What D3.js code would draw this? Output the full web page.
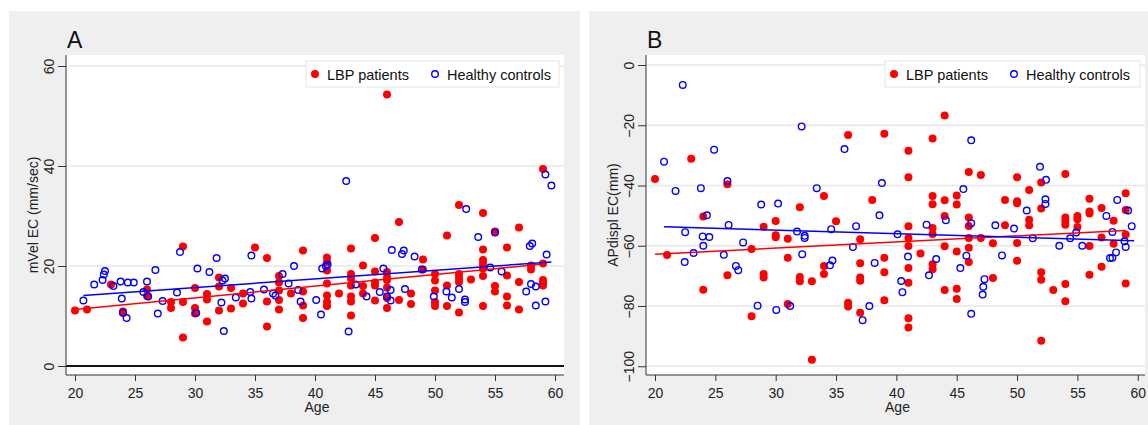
<!DOCTYPE html>
<html>
<head>
<meta charset="utf-8">
<script src="https://cdn.jsdelivr.net/npm/d3@7"></script>
<style>
  body { margin: 0; background: #fff; }
  svg { display: block; font-family: "Liberation Sans", Arial, sans-serif; }
</style>
</head>
<body>
<div id="chart"></div>
<script>
"use strict";

// Panel A: mVel EC (mm/sec) by age
const lbpA = [
  [20,11.1],[21,11.3],[23,16.3],[24,10.9],[24,10.6],[26,15.3],[26,14.0],[28,12.8],[28,11.6],[29,23.9],
  [29,12.8],[29,5.7],[30,15.6],[30,11.6],[30,10.5],[31,14.4],[31,13.3],[31,8.9],[32,17.7],[32,15.9],
  [32,11.1],[33,15.6],[33,11.5],[34,14.5],[34,12.5],[35,23.7],[36,21.6],[36,12.9],[36,7.9],[37,18.0],
  [37,16.7],[37,15.1],[37,13.2],[37,11.3],[38,14.5],[39,23.1],[39,14.9],[39,12.1],[39,9.6],[41,21.7],
  [41,20.8],[41,19.1],[41,16.5],[41,14.1],[41,12.8],[41,12.0],[42,14.5],[43,23.5],[43,18.4],[43,17.5],
  [43,16.1],[43,13.9],[43,12.9],[43,10.1],[44,20.1],[44,16.0],[44,14.5],[45,25.6],[45,18.9],[45,16.7],
  [45,16.1],[45,13.1],[46,54.3],[46,18.8],[46,17.7],[46,17.2],[46,15.7],[46,13.6],[46,11.6],[47,28.8],
  [47,13.2],[48,14.5],[48,12.4],[49,21.3],[49,19.3],[50,18.4],[50,17.1],[50,15.1],[50,12.8],[50,12.0],
  [51,26.1],[51,16.1],[51,12.0],[52,32.2],[52,18.4],[52,17.6],[52,16.8],[52,10.7],[53,17.3],[54,30.6],
  [54,23.3],[54,21.2],[54,20.4],[54,19.5],[54,18.0],[54,12.0],[55,26.9],[55,16.0],[55,14.9],[56,23.7],
  [56,18.1],[56,13.9],[56,12.1],[57,27.7],[57,16.8],[57,11.3],[58,20.1],[58,19.3],[59,39.4],[59,20.5],
  [59,17.2],[59,16.7],[59,16.1]
];
const hcA = [
  [20.7,13.1],[21.6,16.3],[22.3,17.2],[22.4,18.3],[22.5,19.0],[23.2,16.0],[23.8,16.9],[23.9,13.5],[24.0,10.7],[24.3,9.6],
  [24.4,16.7],[24.9,16.7],[25.7,14.8],[26.0,16.9],[26.1,13.9],[26.7,19.2],[26.9,10.5],[27.3,13.0],[28.5,14.7],[28.75,22.8],
  [30.1,10.6],[30.2,19.5],[31.2,18.8],[31.8,21.6],[32.2,12.7],[32.3,17.1],[32.5,17.5],[32.4,7.0],[33.4,13.7],[34.6,14.8],
  [34.7,13.5],[34.7,22.1],[35.75,15.3],[36.5,14.5],[36.7,14.1],[37.3,18.4],[37.8,16.5],[38.25,20.0],[38.6,15.2],[38.8,12.9],
  [40.1,13.2],[40.5,10.3],[40.6,19.5],[40.9,20.0],[41.05,20.3],[42.6,37.0],[42.8,6.9],[43.4,16.3],[44.3,13.9],[45.4,14.8],
  [45.7,19.5],[46.0,13.9],[46.3,15.2],[46.3,13.1],[46.4,23.2],[47.25,22.4],[47.4,23.1],[47.5,15.4],[48.3,21.9],[48.9,19.3],
  [49.9,13.9],[50.95,14.9],[51.4,13.7],[52.0,15.4],[52.5,13.3],[52.5,12.8],[52.6,31.4],[53.6,25.8],[54.6,19.7],[55.0,26.7],
  [55.55,18.9],[57.6,14.9],[57.9,24.0],[58.1,24.5],[58.0,16.4],[58.4,15.9],[58.4,12.1],[59.2,38.3],[59.2,12.9],[59.3,22.3],
  [59.7,36.1]
];
const fitLbpA = [[20,11.3],[59,20.4]];
const fitHcA = [[20.7,14.1],[59.7,20.8]];

// Panel B: APdispl EC (mm) by age
const lbpB = [
  [20,-37.8],[23,-31.1],[26,-39.6],[32,-47.2],[34,-43.5],[36,-23.2],
  [38,-44.8],[39,-22.8],[41,-28.5],[41,-37.3],[43,-24.4],[43,-43.5],[43,-46.2],[44,-16.8],[44,-44.9],[45,-43.3],
  [45,-46.3],[46,-35.5],[47,-36.5],[49,-44.8],[50,-37.3],[50,-45.2],[50,-45.9],[51,-41.5],[52,-39.0],[52,-47.6],
  [54,-36.2],[56,-44.4],[56,-48.6],[57,-47.5],[59,-42.6],[59,-48.1],
  [21,-63.1],[24,-50.3],[24,-74.6],[26,-69.8],[28,-61.1],[28,-83.4],[29,-53.7],[29,-69.4],[29,-70.5],[30,-51.8],
  [30,-56.5],[30,-57.2],[31,-57.7],[31,-64.0],[31,-79.3],[32,-70.4],[32,-71.8],[33,-71.8],[33,-97.8],[34,-66.7],
  [34,-69.4],[35,-51.9],[36,-78.9],[36,-80.2],[37,-57.8],[37,-65.8],[37,-70.5],[37,-71.6],[37,-82.2],
  [39,-64.0],[39,-68.8],[39,-78.1],[41,-53.5],[41,-57.4],[41,-60.1],[41,-67.4],[41,-72.3],[41,-84.1],[41,-87.1],
  [42,-62.6],[43,-54.1],[43,-56.1],[43,-66.1],[43,-67.8],[44,-50.1],[44,-60.2],[44,-74.7],[45,-61.9],[45,-74.3],
  [45,-77.7],[46,-50.6],[46,-53.4],[46,-57.4],[46,-60.7],[46,-65.4],[47,-57.4],[48,-59.2],[48,-70.7],[49,-53.2],
  [50,-59.1],[50,-65.0],[51,-51.4],[51,-53.2],[52,-68.8],[52,-71.3],[52,-91.5],[53,-74.7],[54,-50.6],[54,-51.9],
  [54,-53.0],[54,-72.7],[54,-78.4],[55,-50.1],[55,-51.2],[55,-53.8],[56,-49.3],[56,-60.1],[56,-69.6],[57,-57.3],
  [57,-67.0],[58,-51.7],[58,-59.3],[59,-56.3],[59,-72.5]
];
const hcB = [
  [20.75,-32.1],[21.7,-41.8],[22.3,-6.6],[23.8,-40.9],[24.9,-28.1],[26.0,-38.5],[28.8,-46.3],[30.2,-46.0],[32.15,-20.4],[33.4,-40.9],
  [35.7,-27.9],[38.8,-39.2],[45.55,-41.2],[46.2,-25.0],[51.9,-33.8],[52.4,-38.1],[50.8,-48.3],[52.35,-44.6],[52.35,-46.1],[58.3,-44.8],
  [59.2,-48.3],[22.5,-55.5],[22.46,-65.4],[23.2,-62.4],[23.95,-56.9],[24.0,-60.0],[24.3,-49.9],[24.5,-57.1],[25.7,-63.0],[26.1,-53.1],
  [26.7,-66.7],[26.9,-68.1],[27.3,-58.9],[28.5,-79.9],[30.05,-81.3],[31.2,-80.0],[31.77,-55.3],[32.2,-62.8],[32.4,-56.7],[32.4,-57.4],
  [34.5,-66.5],[34.6,-54.5],[34.7,-64.9],[36.4,-60.4],[36.66,-53.5],[37.2,-84.7],[37.76,-80.0],[38.2,-65.7],[38.6,-49.9],[40.1,-56.2],
  [40.4,-71.7],[40.5,-75.4],[40.96,-63.6],[42.5,-53.0],[42.7,-69.8],[43.3,-64.4],[44.1,-51.5],[45.3,-67.4],[45.8,-63.3],[46.2,-52.5],
  [46.2,-82.6],[47.15,-76.2],[47.2,-73.6],[47.3,-71.1],[48.2,-53.2],[48.75,-63.2],[49.75,-54.3],[51.3,-57.5],[53.5,-60.0],[54.4,-57.5],
  [54.9,-55.6],[55.4,-60.0],[57.4,-50.1],[57.7,-64.1],[57.9,-55.4],[57.9,-64.0],[58.2,-62.2],[58.9,-58.5],[59.0,-60.4],[59.5,-53.5]
];
const fitLbpB = [[20,-62.8],[59,-54.9]];
const fitHcB = [[20.75,-53.7],[59.7,-58.3]];

const xTicks = [20, 25, 30, 35, 40, 45, 50, 55, 60];
const yTicksA = [0, 20, 40, 60];
const yTicksB = [0, -20, -40, -60, -80, -100];
const seriesNames = ["LBP patients", "Healthy controls"];

const width = 1148;
const height = 425;
const red = "#ff0000";
const blue = "#0000ff";
const bg = "#efefef";

const svg = d3.select("#chart").append("svg")
  .attr("width", width)
  .attr("height", height);

svg.append("rect").attr("width", width).attr("height", height).attr("fill", "#fff");

function drawPanel(p) {
  // outer gray area
  svg.append("rect")
    .attr("x", p.box[0]).attr("y", p.box[1])
    .attr("width", p.box[2] - p.box[0]).attr("height", p.box[3] - p.box[1])
    .attr("fill", bg);

  const x = d3.scaleLinear().domain(p.xDomain).range([p.left, p.right]);
  const y = d3.scaleLinear().domain(p.yDomain).range([p.bottom, p.top]);

  const g = svg.append("g");

  g.append("rect")
    .attr("x", p.left).attr("y", p.top)
    .attr("width", p.right - p.left).attr("height", p.bottom - p.top)
    .attr("fill", "#fff");

  // grid
  g.selectAll(".grid")
    .data(p.yTicks.filter(function(t) { return t !== p.zeroLine; }))
    .join("line")
    .attr("x1", p.left).attr("x2", p.right)
    .attr("y1", d => y(d)).attr("y2", d => y(d))
    .attr("stroke", "#e8e8e8")
    .attr("stroke-width", 1.3);

  if (p.zeroLine != null) {
    g.append("line")
      .attr("x1", p.left).attr("x2", p.right)
      .attr("y1", y(p.zeroLine)).attr("y2", y(p.zeroLine))
      .attr("stroke", "#111")
      .attr("stroke-width", 2);
  }

  // axes
  const yAxis = g.append("g")
    .attr("transform", "translate(" + p.left + ",0)")
    .call(d3.axisLeft(y).tickValues(p.yTicks).tickSize(8).tickFormat(d3.format("d")));
  yAxis.select(".domain").attr("d", "M0," + p.top + "V" + p.bottom).attr("stroke", "#333");
  yAxis.selectAll(".tick line").attr("stroke", "#333");
  yAxis.selectAll(".tick text")
    .attr("x", 0).attr("dy", 0)
    .attr("transform", "translate(-12,0) rotate(-90)")
    .attr("text-anchor", "middle")
    .attr("font-size", 14)
    .attr("fill", "#222");

  const xAxis = g.append("g")
    .attr("transform", "translate(0," + p.bottom + ")")
    .call(d3.axisBottom(x).tickValues(xTicks).tickSize(6));
  xAxis.select(".domain").attr("d", "M" + p.left + ",0H" + p.right).attr("stroke", "#333");
  xAxis.selectAll(".tick line").attr("stroke", "#333");
  xAxis.selectAll(".tick text")
    .attr("y", 0).attr("dy", 0)
    .attr("transform", "translate(0,23)")
    .attr("font-size", 14)
    .attr("fill", "#222");

  svg.append("text")
    .attr("x", (p.left + p.right) / 2 + 2)
    .attr("y", p.bottom + 37)
    .attr("text-anchor", "middle")
    .attr("font-size", 14)
    .attr("fill", "#222")
    .text("Age");

  svg.append("text")
    .attr("transform", "translate(" + (p.left - 28) + "," + ((p.top + p.bottom) / 2) + ") rotate(-90)")
    .attr("text-anchor", "middle")
    .attr("font-size", 14)
    .attr("fill", "#222")
    .text(p.yTitle);

  svg.append("text")
    .attr("x", p.left + 1)
    .attr("y", p.top - 7)
    .attr("font-size", 23)
    .attr("fill", "#111")
    .text(p.title);

  // points: patients first, controls drawn over them
  g.selectAll(".lbp")
    .data(p.lbp)
    .join("circle")
    .attr("cx", d => x(d[0])).attr("cy", d => y(d[1]))
    .attr("r", 4)
    .attr("fill", red);

  g.selectAll(".hc")
    .data(p.hc)
    .join("circle")
    .attr("cx", d => x(d[0])).attr("cy", d => y(d[1]))
    .attr("r", 3.3)
    .attr("fill", "none")
    .attr("stroke", blue)
    .attr("stroke-width", 1.4);

  // fit lines
  const line = d3.line().x(d => x(d[0])).y(d => y(d[1]));
  g.append("path").datum(p.fitLbp).attr("d", line)
    .attr("fill", "none").attr("stroke", red).attr("stroke-width", 1.5);
  g.append("path").datum(p.fitHc).attr("d", line)
    .attr("fill", "none").attr("stroke", blue).attr("stroke-width", 1.5);

  // legend
  const lx = p.right - 5 - p.legendWidth;
  const leg = svg.append("g").attr("transform", "translate(" + lx + "," + (p.top + 6) + ")");
  leg.append("rect")
    .attr("width", p.legendWidth).attr("height", 26)
    .attr("fill", "#fff").attr("stroke", "#e6e6e6").attr("stroke-width", 1);
  leg.append("circle").attr("cx", 9).attr("cy", 13).attr("r", 4).attr("fill", red);
  leg.append("text").attr("x", 21).attr("y", 18.5)
    .attr("font-size", 14.5).attr("fill", "#111").text(seriesNames[0]);
  leg.append("circle").attr("cx", 129).attr("cy", 13).attr("r", 3.3)
    .attr("fill", "none").attr("stroke", blue).attr("stroke-width", 1.4);
  leg.append("text").attr("x", 141).attr("y", 18.5)
    .attr("font-size", 14.5).attr("fill", "#111").text(seriesNames[1]);
}

drawPanel({
  box: [9, 11, 580, 425],
  left: 66, right: 564, top: 55, bottom: 375,
  xDomain: [19.25, 60.75],
  yDomain: [-1.8, 62.2],
  yTicks: yTicksA,
  zeroLine: 0,
  title: "A",
  yTitle: "mVel EC (mm/sec)",
  lbp: lbpA, hc: hcA, fitLbp: fitLbpA, fitHc: fitHcA,
  legendWidth: 253
});

drawPanel({
  box: [589, 11, 1148, 425],
  left: 646, right: 1145, top: 55, bottom: 375,
  xDomain: [19.254, 60.6],
  yDomain: [-102.9, 3.32],
  yTicks: yTicksB,
  zeroLine: null,
  title: "B",
  yTitle: "APdispl EC(mm)",
  lbp: lbpB, hc: hcB, fitLbp: fitLbpB, fitHc: fitHcB,
  legendWidth: 255
});
</script>
</body>
</html>
